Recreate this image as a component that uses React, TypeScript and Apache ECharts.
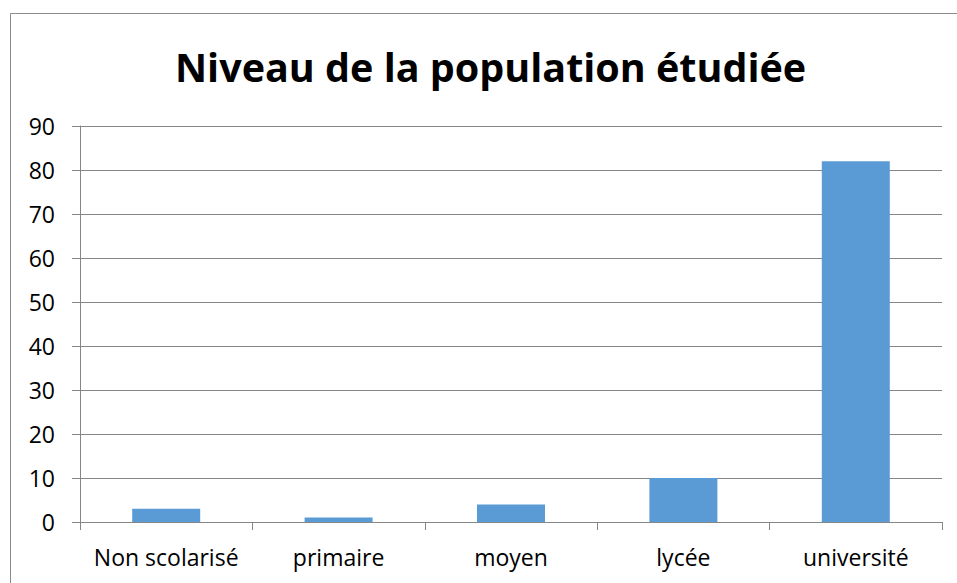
import React, { useEffect, useRef } from "react";
import * as echarts from "echarts";

const categories = ["Non scolarisé", "primaire", "moyen", "lycée", "université"];
const values = [3, 1, 4, 10, 82];
const titleText = "Niveau de la population étudiée";

export default function App() {
  const ref = useRef<HTMLDivElement>(null);
  useEffect(() => {
    if (!ref.current) return;
    const chart = echarts.init(ref.current, null, { renderer: "svg" });
    const font = "'Open Sans', sans-serif";
    chart.setOption({
      animation: false,
      backgroundColor: "#ffffff",
      title: {
        text: titleText,
        left: 170,
        top: 42,
        textStyle: { fontFamily: font, fontWeight: "bold", fontSize: 39.5, color: "#000" },
      },
      graphic: [
        {
          type: "rect",
          shape: { x: 10.5, y: 13.5, width: 1000, height: 1000 },
          style: { fill: "none", stroke: "#8c8c8c", lineWidth: 1 },
          silent: true,
        },
      ],
      grid: { left: 80, right: 15, top: 126, bottom: 61, containLabel: false },
      xAxis: {
        type: "category",
        data: categories,
        axisLine: { lineStyle: { color: "#868686", width: 1 } },
        axisTick: { show: true, length: 8, alignWithLabel: false, lineStyle: { color: "#868686" } },
        axisLabel: { fontFamily: font, fontSize: 23, color: "#000", margin: 23, interval: 0 },
      },
      yAxis: {
        type: "value",
        min: 0,
        max: 90,
        interval: 10,
        axisLine: { show: true, lineStyle: { color: "#868686", width: 1 } },
        axisTick: { show: true, length: 8, lineStyle: { color: "#868686" } },
        axisLabel: { fontFamily: font, fontSize: 23, color: "#000", margin: 25 },
        splitLine: { lineStyle: { color: "#868686", width: 1 } },
      },
      series: [
        {
          type: "bar",
          data: values,
          barWidth: 68,
          itemStyle: { color: "#5B9BD5" },
        },
      ],
    });
    return () => chart.dispose();
  }, []);
  return (
    <div
      ref={ref}
      style={{ position: "absolute", left: 0, top: 0, width: 957, height: 583 }}
    />
  );
}
